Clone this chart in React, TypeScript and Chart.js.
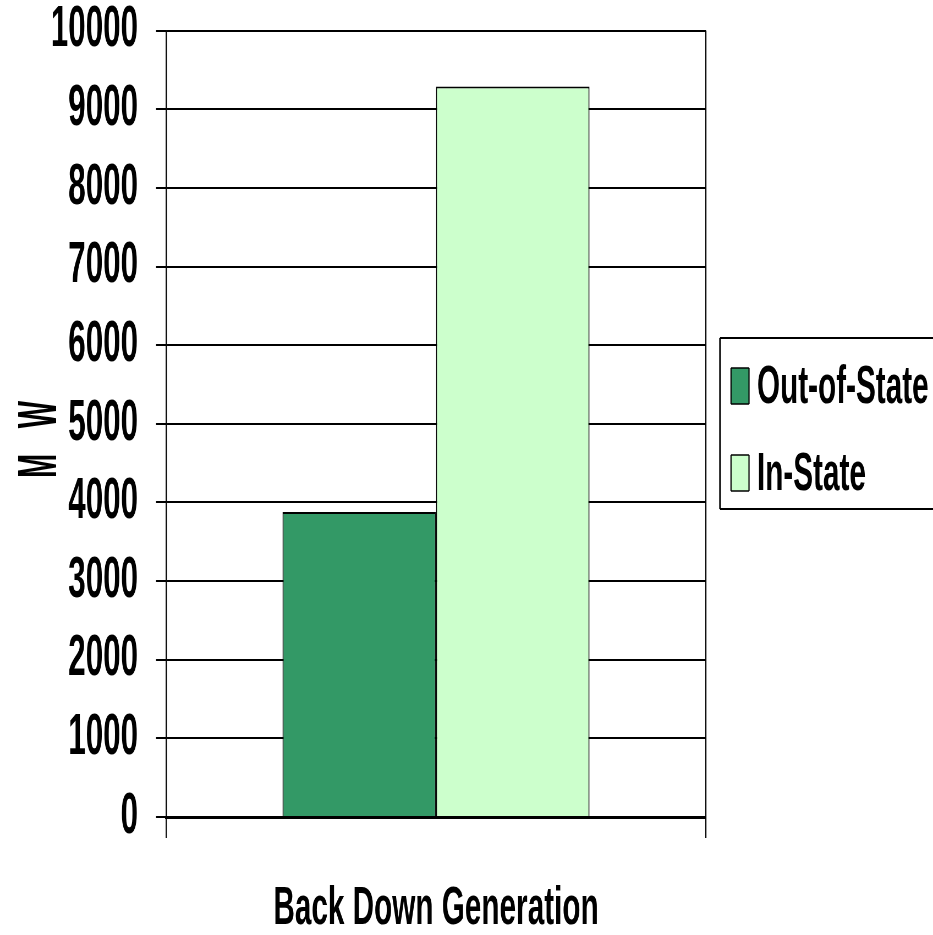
import React, { useEffect, useRef } from 'react';
import { Chart, registerables } from 'chart.js';

Chart.register(...registerables);

// ---- data ----
const categories = ['Back Down Generation'];
const seriesNames = ['Out-of-State', 'In-State'];
const outOfStateValues = [3880];
const inStateValues = [9290];
const seriesColors = ['#339966', '#CCFFCC'];
const yMin = 0;
const yMax = 10000;
const yStep = 1000;
const yTitle = 'M W';

// ---- layout (display pixels; the canvas is drawn wide and squeezed horizontally) ----
const W = 933;
const H = 935;
const IW = 1696; // internal canvas width
const SQ = W / IW; // horizontal squeeze
const px = (d: number) => d / SQ;
const FONT = '"Liberation Sans", Arial, Helvetica, sans-serif';

const plotLeft = 166;
const plotRight = 706;
const plotTop = 30.7;
const plotBottom = 817;
const tickFontSize = 57;

const legendPlugin = {
  id: 'boxLegend',
  afterDraw(chart: any) {
    const ctx = chart.ctx as CanvasRenderingContext2D;
    ctx.save();
    const left = px(720);
    const top = 338;
    const bottom = 509;
    const right = IW + 20;
    ctx.strokeStyle = '#000';
    ctx.lineWidth = 2;
    ctx.beginPath();
    ctx.moveTo(left, top);
    ctx.lineTo(right, top);
    ctx.moveTo(left, bottom);
    ctx.lineTo(right, bottom);
    ctx.stroke();
    ctx.lineWidth = px(1.6);
    ctx.beginPath();
    ctx.moveTo(left, top);
    ctx.lineTo(left, bottom);
    ctx.stroke();

    const baselines = [403, 490];
    chart.data.datasets.forEach((ds: any, i: number) => {
      const b = baselines[i];
      const sx = px(731);
      const sw = px(18);
      const sy = b - 35;
      const sh = 36;
      ctx.fillStyle = ds.backgroundColor;
      ctx.fillRect(sx, sy, sw, sh);
      ctx.strokeStyle = '#000';
      ctx.lineWidth = 1.5;
      ctx.beginPath();
      ctx.moveTo(sx, sy);
      ctx.lineTo(sx + sw, sy);
      ctx.moveTo(sx, sy + sh);
      ctx.lineTo(sx + sw, sy + sh);
      ctx.stroke();
      ctx.lineWidth = px(1.2);
      ctx.beginPath();
      ctx.moveTo(sx, sy);
      ctx.lineTo(sx, sy + sh);
      ctx.moveTo(sx + sw, sy);
      ctx.lineTo(sx + sw, sy + sh);
      ctx.stroke();
      ctx.fillStyle = '#000';
      ctx.font = `bold 54px ${FONT}`;
      ctx.textAlign = 'left';
      ctx.textBaseline = 'alphabetic';
      ctx.fillText(ds.label, px(757), b);
    });
    ctx.restore();
  },
};

const yTitlePlugin = {
  id: 'yTitleText',
  afterDraw(chart: any) {
    const ctx = chart.ctx as CanvasRenderingContext2D;
    ctx.save();
    const fontSize = 100;
    const capInternal = 0.716 * fontSize;
    const words = yTitle.split(' ');
    // centre (display y) of each word along the rotated baseline, bottom word first
    const centres = [466, 414.5];
    ctx.font = `bold ${fontSize}px ${FONT}`;
    ctx.fillStyle = '#000';
    ctx.textAlign = 'center';
    ctx.textBaseline = 'alphabetic';
    words.forEach((w, i) => {
      ctx.save();
      ctx.translate(px(36.5) + capInternal / 2, centres[i] ?? 440);
      ctx.rotate(-Math.PI / 2);
      ctx.scale(0.29, 1);
      ctx.fillText(w, 0, 0);
      ctx.restore();
    });
    ctx.restore();
  },
};

export default function App() {
  const ref = useRef<HTMLCanvasElement | null>(null);

  useEffect(() => {
    const canvas = ref.current;
    if (!canvas) return;
    const chart = new Chart(canvas, {
      type: 'bar',
      data: {
        labels: categories,
        datasets: [
          {
            label: seriesNames[0],
            data: outOfStateValues,
            backgroundColor: seriesColors[0],
            borderColor: '#000',
            borderWidth: 2,
          },
          {
            label: seriesNames[1],
            data: inStateValues,
            backgroundColor: seriesColors[1],
            borderColor: '#000',
            borderWidth: 2,
          },
        ],
      },
      options: {
        responsive: false,
        maintainAspectRatio: false,
        devicePixelRatio: 1,
        animation: false,
        layout: {
          padding: { left: 0, right: IW - px(plotRight), top: plotTop, bottom: 0 },
        },
        datasets: {
          bar: {
            categoryPercentage: 307 / 540,
            barPercentage: 1,
          },
        },
        plugins: {
          legend: { display: false },
          tooltip: { enabled: false },
          title: { display: false },
        },
        scales: {
          x: {
            offset: true,
            afterFit(scale: any) {
              scale.height = H - plotBottom;
              scale.paddingLeft = 0;
              scale.paddingRight = 0;
            },
            grid: {
              display: true,
              offset: true,
              color: (c: any) => (c.index === 1 ? '#808080' : '#000'),
              lineWidth: px(1.2),
              tickLength: 21,
              drawTicks: true,
            },
            border: { display: true, color: '#000', width: 3 },
            ticks: {
              color: '#000',
              padding: 44,
              font: { family: FONT, size: 54, weight: 'bold', lineHeight: 1 },
            },
          },
          y: {
            min: yMin,
            max: yMax,
            afterFit(scale: any) {
              scale.width = px(plotLeft);
              scale.paddingTop = 0;
              scale.paddingBottom = 0;
            },
            grid: {
              color: '#000',
              lineWidth: 2,
              tickLength: px(10),
            },
            border: { display: true, color: '#000', width: px(1.3) },
            ticks: {
              stepSize: yStep,
              color: '#000',
              padding: px(18),
              callback: (v: any) => String(v),
              font: { family: FONT, size: tickFontSize, weight: 'bold', lineHeight: 1 },
            },
            title: { display: false },
          },
        },
      },
      plugins: [legendPlugin, yTitlePlugin],
    } as any);
    return () => chart.destroy();
  }, []);

  return (
    <div style={{ position: 'fixed', left: 0, top: 0, width: W, height: H, overflow: 'hidden', background: '#fff' }}>
      <canvas
        ref={ref}
        width={IW}
        height={H}
        style={{ width: `${W}px`, height: `${H}px`, display: 'block' }}
      />
    </div>
  );
}
